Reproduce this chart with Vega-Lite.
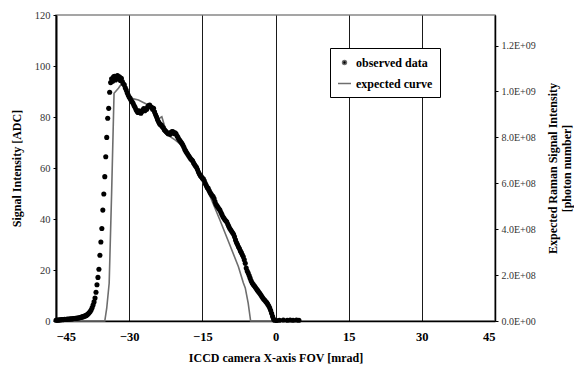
{
  "$schema": "https://vega.github.io/schema/vega-lite/v6.json",
  "width": 439,
  "height": 306,
  "autosize": {"type": "none"},
  "padding": {"left": 56, "top": 15, "right": 79, "bottom": 53},
  "background": "white",
  "config": {
    "view": {"stroke": "#888888", "strokeWidth": 1.5},
    "font": "Liberation Serif"
  },
  "datasets": {
    "observed": [
      {"fov": -45.0, "adc": 0.3}, {"fov": -44.8, "adc": 0.4}, {"fov": -44.6, "adc": 0.3}, {"fov": -44.4, "adc": 0.5}, {"fov": -44.2, "adc": 0.4},
      {"fov": -44.0, "adc": 0.5}, {"fov": -43.8, "adc": 0.6}, {"fov": -43.6, "adc": 0.5}, {"fov": -43.4, "adc": 0.6}, {"fov": -43.2, "adc": 0.7},
      {"fov": -43.0, "adc": 0.6}, {"fov": -42.8, "adc": 0.7}, {"fov": -42.6, "adc": 0.8}, {"fov": -42.4, "adc": 0.7}, {"fov": -42.2, "adc": 0.8},
      {"fov": -42.0, "adc": 0.9}, {"fov": -41.8, "adc": 0.8}, {"fov": -41.6, "adc": 0.9}, {"fov": -41.4, "adc": 1.0}, {"fov": -41.2, "adc": 1.0},
      {"fov": -41.0, "adc": 1.1}, {"fov": -40.8, "adc": 1.1}, {"fov": -40.6, "adc": 1.2}, {"fov": -40.4, "adc": 1.2}, {"fov": -40.2, "adc": 1.3},
      {"fov": -40.0, "adc": 1.4}, {"fov": -39.8, "adc": 1.5}, {"fov": -39.6, "adc": 1.6}, {"fov": -39.4, "adc": 1.7}, {"fov": -39.2, "adc": 1.9},
      {"fov": -39.0, "adc": 2.0}, {"fov": -38.8, "adc": 2.2}, {"fov": -38.6, "adc": 2.5}, {"fov": -38.4, "adc": 2.8}, {"fov": -38.2, "adc": 3.2},
      {"fov": -38.0, "adc": 3.7}, {"fov": -37.8, "adc": 4.3}, {"fov": -37.6, "adc": 5.2}, {"fov": -37.4, "adc": 6.3}, {"fov": -37.2, "adc": 7.5},
      {"fov": -37.0, "adc": 9.0}, {"fov": -36.8, "adc": 11.3}, {"fov": -36.6, "adc": 14.2}, {"fov": -36.4, "adc": 17.1}, {"fov": -36.2, "adc": 20.3},
      {"fov": -36.0, "adc": 25.8}, {"fov": -35.8, "adc": 31.0}, {"fov": -35.6, "adc": 36.3}, {"fov": -35.4, "adc": 43.5}, {"fov": -35.2, "adc": 49.8},
      {"fov": -35.0, "adc": 56.6}, {"fov": -34.8, "adc": 64.4}, {"fov": -34.6, "adc": 72.0}, {"fov": -34.4, "adc": 79.5}, {"fov": -34.2, "adc": 83.4},
      {"fov": -34.0, "adc": 89.7}, {"fov": -33.8, "adc": 93.5}, {"fov": -33.6, "adc": 95.0}, {"fov": -33.4, "adc": 94.0}, {"fov": -33.2, "adc": 95.8},
      {"fov": -33.0, "adc": 96.0}, {"fov": -32.8, "adc": 94.5}, {"fov": -32.6, "adc": 95.5}, {"fov": -32.4, "adc": 96.3}, {"fov": -32.2, "adc": 95.0},
      {"fov": -32.0, "adc": 95.8}, {"fov": -31.8, "adc": 94.3}, {"fov": -31.6, "adc": 95.2}, {"fov": -31.4, "adc": 93.9}, {"fov": -31.2, "adc": 93.0},
      {"fov": -31.0, "adc": 92.6}, {"fov": -30.8, "adc": 91.5}, {"fov": -30.6, "adc": 90.6}, {"fov": -30.4, "adc": 89.5}, {"fov": -30.2, "adc": 88.6},
      {"fov": -30.0, "adc": 87.8}, {"fov": -29.8, "adc": 87.3}, {"fov": -29.6, "adc": 86.5}, {"fov": -29.4, "adc": 86.0}, {"fov": -29.2, "adc": 85.4},
      {"fov": -29.0, "adc": 84.5}, {"fov": -28.8, "adc": 83.8}, {"fov": -28.6, "adc": 82.9}, {"fov": -28.4, "adc": 82.3}, {"fov": -28.2, "adc": 81.8},
      {"fov": -28.0, "adc": 82.4}, {"fov": -27.8, "adc": 82.1}, {"fov": -27.6, "adc": 81.5}, {"fov": -27.4, "adc": 82.2}, {"fov": -27.2, "adc": 82.7},
      {"fov": -27.0, "adc": 83.3}, {"fov": -26.8, "adc": 82.5}, {"fov": -26.6, "adc": 83.1}, {"fov": -26.4, "adc": 83.0}, {"fov": -26.2, "adc": 84.0},
      {"fov": -26.0, "adc": 84.5}, {"fov": -25.8, "adc": 84.7}, {"fov": -25.6, "adc": 84.0}, {"fov": -25.4, "adc": 83.8}, {"fov": -25.2, "adc": 83.0},
      {"fov": -25.0, "adc": 83.4}, {"fov": -24.8, "adc": 82.0}, {"fov": -24.6, "adc": 81.0}, {"fov": -24.4, "adc": 80.1}, {"fov": -24.2, "adc": 79.0},
      {"fov": -24.0, "adc": 78.2}, {"fov": -23.8, "adc": 77.5}, {"fov": -23.6, "adc": 77.0}, {"fov": -23.4, "adc": 76.8}, {"fov": -23.2, "adc": 76.2},
      {"fov": -23.0, "adc": 75.8}, {"fov": -22.8, "adc": 75.0}, {"fov": -22.6, "adc": 74.6}, {"fov": -22.4, "adc": 74.2}, {"fov": -22.2, "adc": 73.8},
      {"fov": -22.0, "adc": 73.4}, {"fov": -21.8, "adc": 73.6}, {"fov": -21.6, "adc": 73.2}, {"fov": -21.4, "adc": 74.0}, {"fov": -21.2, "adc": 74.3},
      {"fov": -21.0, "adc": 74.2}, {"fov": -20.8, "adc": 73.5}, {"fov": -20.6, "adc": 73.8}, {"fov": -20.4, "adc": 73.4}, {"fov": -20.2, "adc": 72.6},
      {"fov": -20.0, "adc": 72.0}, {"fov": -19.8, "adc": 71.3}, {"fov": -19.6, "adc": 70.8}, {"fov": -19.4, "adc": 70.2}, {"fov": -19.2, "adc": 69.7},
      {"fov": -19.0, "adc": 69.0}, {"fov": -18.8, "adc": 68.2}, {"fov": -18.6, "adc": 67.3}, {"fov": -18.4, "adc": 66.6}, {"fov": -18.2, "adc": 66.0},
      {"fov": -18.0, "adc": 65.4}, {"fov": -17.8, "adc": 64.8}, {"fov": -17.6, "adc": 64.2}, {"fov": -17.4, "adc": 63.6}, {"fov": -17.2, "adc": 63.2},
      {"fov": -17.0, "adc": 62.8}, {"fov": -16.8, "adc": 62.0}, {"fov": -16.6, "adc": 61.4}, {"fov": -16.4, "adc": 60.8}, {"fov": -16.2, "adc": 60.3},
      {"fov": -16.0, "adc": 59.4}, {"fov": -15.8, "adc": 58.4}, {"fov": -15.6, "adc": 57.6}, {"fov": -15.4, "adc": 57.0}, {"fov": -15.2, "adc": 56.6},
      {"fov": -15.0, "adc": 56.0}, {"fov": -14.8, "adc": 55.8}, {"fov": -14.6, "adc": 55.0}, {"fov": -14.4, "adc": 54.0}, {"fov": -14.2, "adc": 53.2},
      {"fov": -14.0, "adc": 52.4}, {"fov": -13.8, "adc": 52.0}, {"fov": -13.6, "adc": 51.2}, {"fov": -13.4, "adc": 50.4}, {"fov": -13.2, "adc": 49.8},
      {"fov": -13.0, "adc": 49.2}, {"fov": -12.8, "adc": 48.8}, {"fov": -12.6, "adc": 48.0}, {"fov": -12.4, "adc": 46.8}, {"fov": -12.2, "adc": 45.8},
      {"fov": -12.0, "adc": 45.2}, {"fov": -11.8, "adc": 44.6}, {"fov": -11.6, "adc": 44.0}, {"fov": -11.4, "adc": 43.5}, {"fov": -11.2, "adc": 42.6},
      {"fov": -11.0, "adc": 41.8}, {"fov": -10.8, "adc": 41.0}, {"fov": -10.6, "adc": 40.4}, {"fov": -10.4, "adc": 39.8}, {"fov": -10.2, "adc": 39.3},
      {"fov": -10.0, "adc": 38.9}, {"fov": -9.8, "adc": 38.0}, {"fov": -9.6, "adc": 37.2}, {"fov": -9.4, "adc": 36.4}, {"fov": -9.2, "adc": 35.8},
      {"fov": -9.0, "adc": 35.2}, {"fov": -8.8, "adc": 34.6}, {"fov": -8.6, "adc": 34.0}, {"fov": -8.4, "adc": 33.0}, {"fov": -8.2, "adc": 31.8},
      {"fov": -8.0, "adc": 30.8}, {"fov": -7.8, "adc": 30.0}, {"fov": -7.6, "adc": 29.1}, {"fov": -7.4, "adc": 28.4}, {"fov": -7.2, "adc": 27.5},
      {"fov": -7.0, "adc": 26.8}, {"fov": -6.8, "adc": 26.0}, {"fov": -6.6, "adc": 25.2}, {"fov": -6.4, "adc": 24.0}, {"fov": -6.2, "adc": 22.6},
      {"fov": -6.0, "adc": 20.8}, {"fov": -5.8, "adc": 19.6}, {"fov": -5.6, "adc": 18.8}, {"fov": -5.4, "adc": 17.8}, {"fov": -5.2, "adc": 16.8},
      {"fov": -5.0, "adc": 15.8}, {"fov": -4.8, "adc": 15.0}, {"fov": -4.6, "adc": 14.4}, {"fov": -4.4, "adc": 13.9}, {"fov": -4.2, "adc": 13.4},
      {"fov": -4.0, "adc": 12.8}, {"fov": -3.8, "adc": 12.3}, {"fov": -3.6, "adc": 11.8}, {"fov": -3.4, "adc": 11.3}, {"fov": -3.2, "adc": 10.8},
      {"fov": -3.0, "adc": 10.2}, {"fov": -2.8, "adc": 9.6}, {"fov": -2.6, "adc": 9.0}, {"fov": -2.4, "adc": 8.5}, {"fov": -2.2, "adc": 8.1},
      {"fov": -2.0, "adc": 7.6}, {"fov": -1.8, "adc": 7.2}, {"fov": -1.6, "adc": 6.6}, {"fov": -1.4, "adc": 6.0}, {"fov": -1.2, "adc": 5.2},
      {"fov": -1.0, "adc": 4.2}, {"fov": -0.8, "adc": 3.0}, {"fov": -0.6, "adc": 1.8}, {"fov": -0.4, "adc": 0.8}, {"fov": -0.2, "adc": 0.3},
      {"fov": 0.2, "adc": 0.2}, {"fov": 0.8, "adc": 0.3}, {"fov": 1.6, "adc": 0.4}, {"fov": 2.4, "adc": 0.3}, {"fov": 3.0, "adc": 0.4},
      {"fov": 3.6, "adc": 0.3}, {"fov": 4.3, "adc": 0.4}, {"fov": 4.8, "adc": 0.3}
    ],
    "expected": [
      {"fov": -45.0, "photons": 0}, {"fov": -35.0, "photons": 0}, {"fov": -34.6, "photons": 55600000},
      {"fov": -34.1, "photons": 164400000}, {"fov": -33.6, "photons": 555600000}, {"fov": -33.1, "photons": 992200000},
      {"fov": -32.2, "photons": 1014400000}, {"fov": -31.5, "photons": 1035600000}, {"fov": -30.9, "photons": 1021100000},
      {"fov": -30.2, "photons": 977800000}, {"fov": -29.5, "photons": 970000000}, {"fov": -28.1, "photons": 963300000},
      {"fov": -26.8, "photons": 948900000}, {"fov": -26.1, "photons": 941100000}, {"fov": -25.0, "photons": 918900000},
      {"fov": -24.4, "photons": 875600000}, {"fov": -23.3, "photons": 890000000}, {"fov": -22.7, "photons": 846700000},
      {"fov": -21.6, "photons": 803300000}, {"fov": -20.6, "photons": 788900000}, {"fov": -19.6, "photons": 772200000},
      {"fov": -18.6, "photons": 744400000}, {"fov": -17.5, "photons": 711100000}, {"fov": -16.2, "photons": 657800000},
      {"fov": -15.5, "photons": 628900000}, {"fov": -13.4, "photons": 542200000}, {"fov": -11.4, "photons": 440000000},
      {"fov": -9.3, "photons": 327800000}, {"fov": -7.6, "photons": 236700000}, {"fov": -6.6, "photons": 166700000},
      {"fov": -6.2, "photons": 144400000}, {"fov": -5.6, "photons": 77800000}, {"fov": -5.1, "photons": 0},
      {"fov": 0.0, "photons": 0}
    ]
  },
  "layer": [
    {
      "data": {"name": "expected"},
      "mark": {"type": "line", "color": "#6e6e6e", "strokeWidth": 1.6},
      "encoding": {
        "x": {
          "field": "fov", "type": "quantitative",
          "scale": {"domain": [-45, 45], "nice": false, "zero": false},
          "axis": {
            "values": [-45, -30, -15, 0, 15, 30, 45],
            "grid": true, "gridColor": "black", "gridWidth": 0.9, "gridOpacity": 1,
            "ticks": false, "tickSize": 0,
            "domainColor": "black", "domainWidth": 1.5,
            "labelFont": "Liberation Serif", "labelFontWeight": "bold", "labelFontSize": 12.5, "labelColor": "black",
            "labelPadding": 9,
            "title": "ICCD camera X-axis FOV [mrad]",
            "titleFont": "Liberation Serif", "titleFontWeight": "bold", "titleFontSize": 12, "titleColor": "black",
            "titlePadding": 10
          }
        },
        "y": {
          "field": "photons", "type": "quantitative",
          "scale": {"domain": [0, 1333333333], "nice": false},
          "axis": {
            "orient": "right",
            "values": [0, 200000000, 400000000, 600000000, 800000000, 1000000000, 1200000000],
            "labelExpr": "replace(format(datum.value, '.1e'), 'e+', 'E+0')",
            "grid": false,
            "domainColor": "black", "domainWidth": 1.5,
            "tickColor": "black", "tickSize": 3,
            "labelFont": "Liberation Serif", "labelFontSize": 10, "labelColor": "#333333", "labelPadding": 3,
            "title": ["Expected Raman Signal Intensity", "[photon number]"],
            "titleAngle": 270,
            "titleFont": "Liberation Serif", "titleFontWeight": "bold", "titleFontSize": 12, "titleColor": "black",
            "titlePadding": 10
          }
        }
      }
    },
    {
      "data": {"name": "observed"},
      "mark": {"type": "circle", "size": 26, "opacity": 1, "color": "black"},
      "encoding": {
        "x": {"field": "fov", "type": "quantitative"},
        "y": {
          "field": "adc", "type": "quantitative",
          "scale": {"domain": [0, 120], "nice": false},
          "axis": {
            "orient": "left",
            "values": [0, 20, 40, 60, 80, 100, 120],
            "grid": false,
            "domainColor": "black", "domainWidth": 2,
            "tickColor": "black", "tickSize": 3,
            "labelFont": "Liberation Serif", "labelFontSize": 10.5, "labelColor": "#333333", "labelPadding": 3,
            "title": "Signal Intensity [ADC]",
            "titleFont": "Liberation Serif", "titleFontWeight": "bold", "titleFontSize": 12, "titleColor": "black",
            "titlePadding": 11
          }
        }
      }
    },
    {
      "data": {"values": []},
      "mark": {"type": "point", "filled": true, "fill": "black", "stroke": "#6e6e6e", "strokeWidth": 1.6, "opacity": 1},
      "encoding": {
        "shape": {
          "datum": "observed data", "type": "nominal",
          "scale": {
            "domain": ["observed data", "expected curve"],
            "range": ["M0.3,0A0.3,0.3 0 1,1 -0.3,0A0.3,0.3 0 1,1 0.3,0Z", "M-1,0L1,0"]
          },
          "legend": {
            "title": null,
            "orient": "none", "legendX": 274, "legendY": 33,
            "fillColor": "white", "strokeColor": "black",
            "padding": 7, "rowPadding": 7,
            "symbolSize": 169,
            "labelFont": "Liberation Serif", "labelFontWeight": "bold", "labelFontSize": 12, "labelColor": "black",
            "labelOffset": 4
          }
        }
      }
    }
  ],
  "resolve": {"scale": {"y": "independent"}}
}
